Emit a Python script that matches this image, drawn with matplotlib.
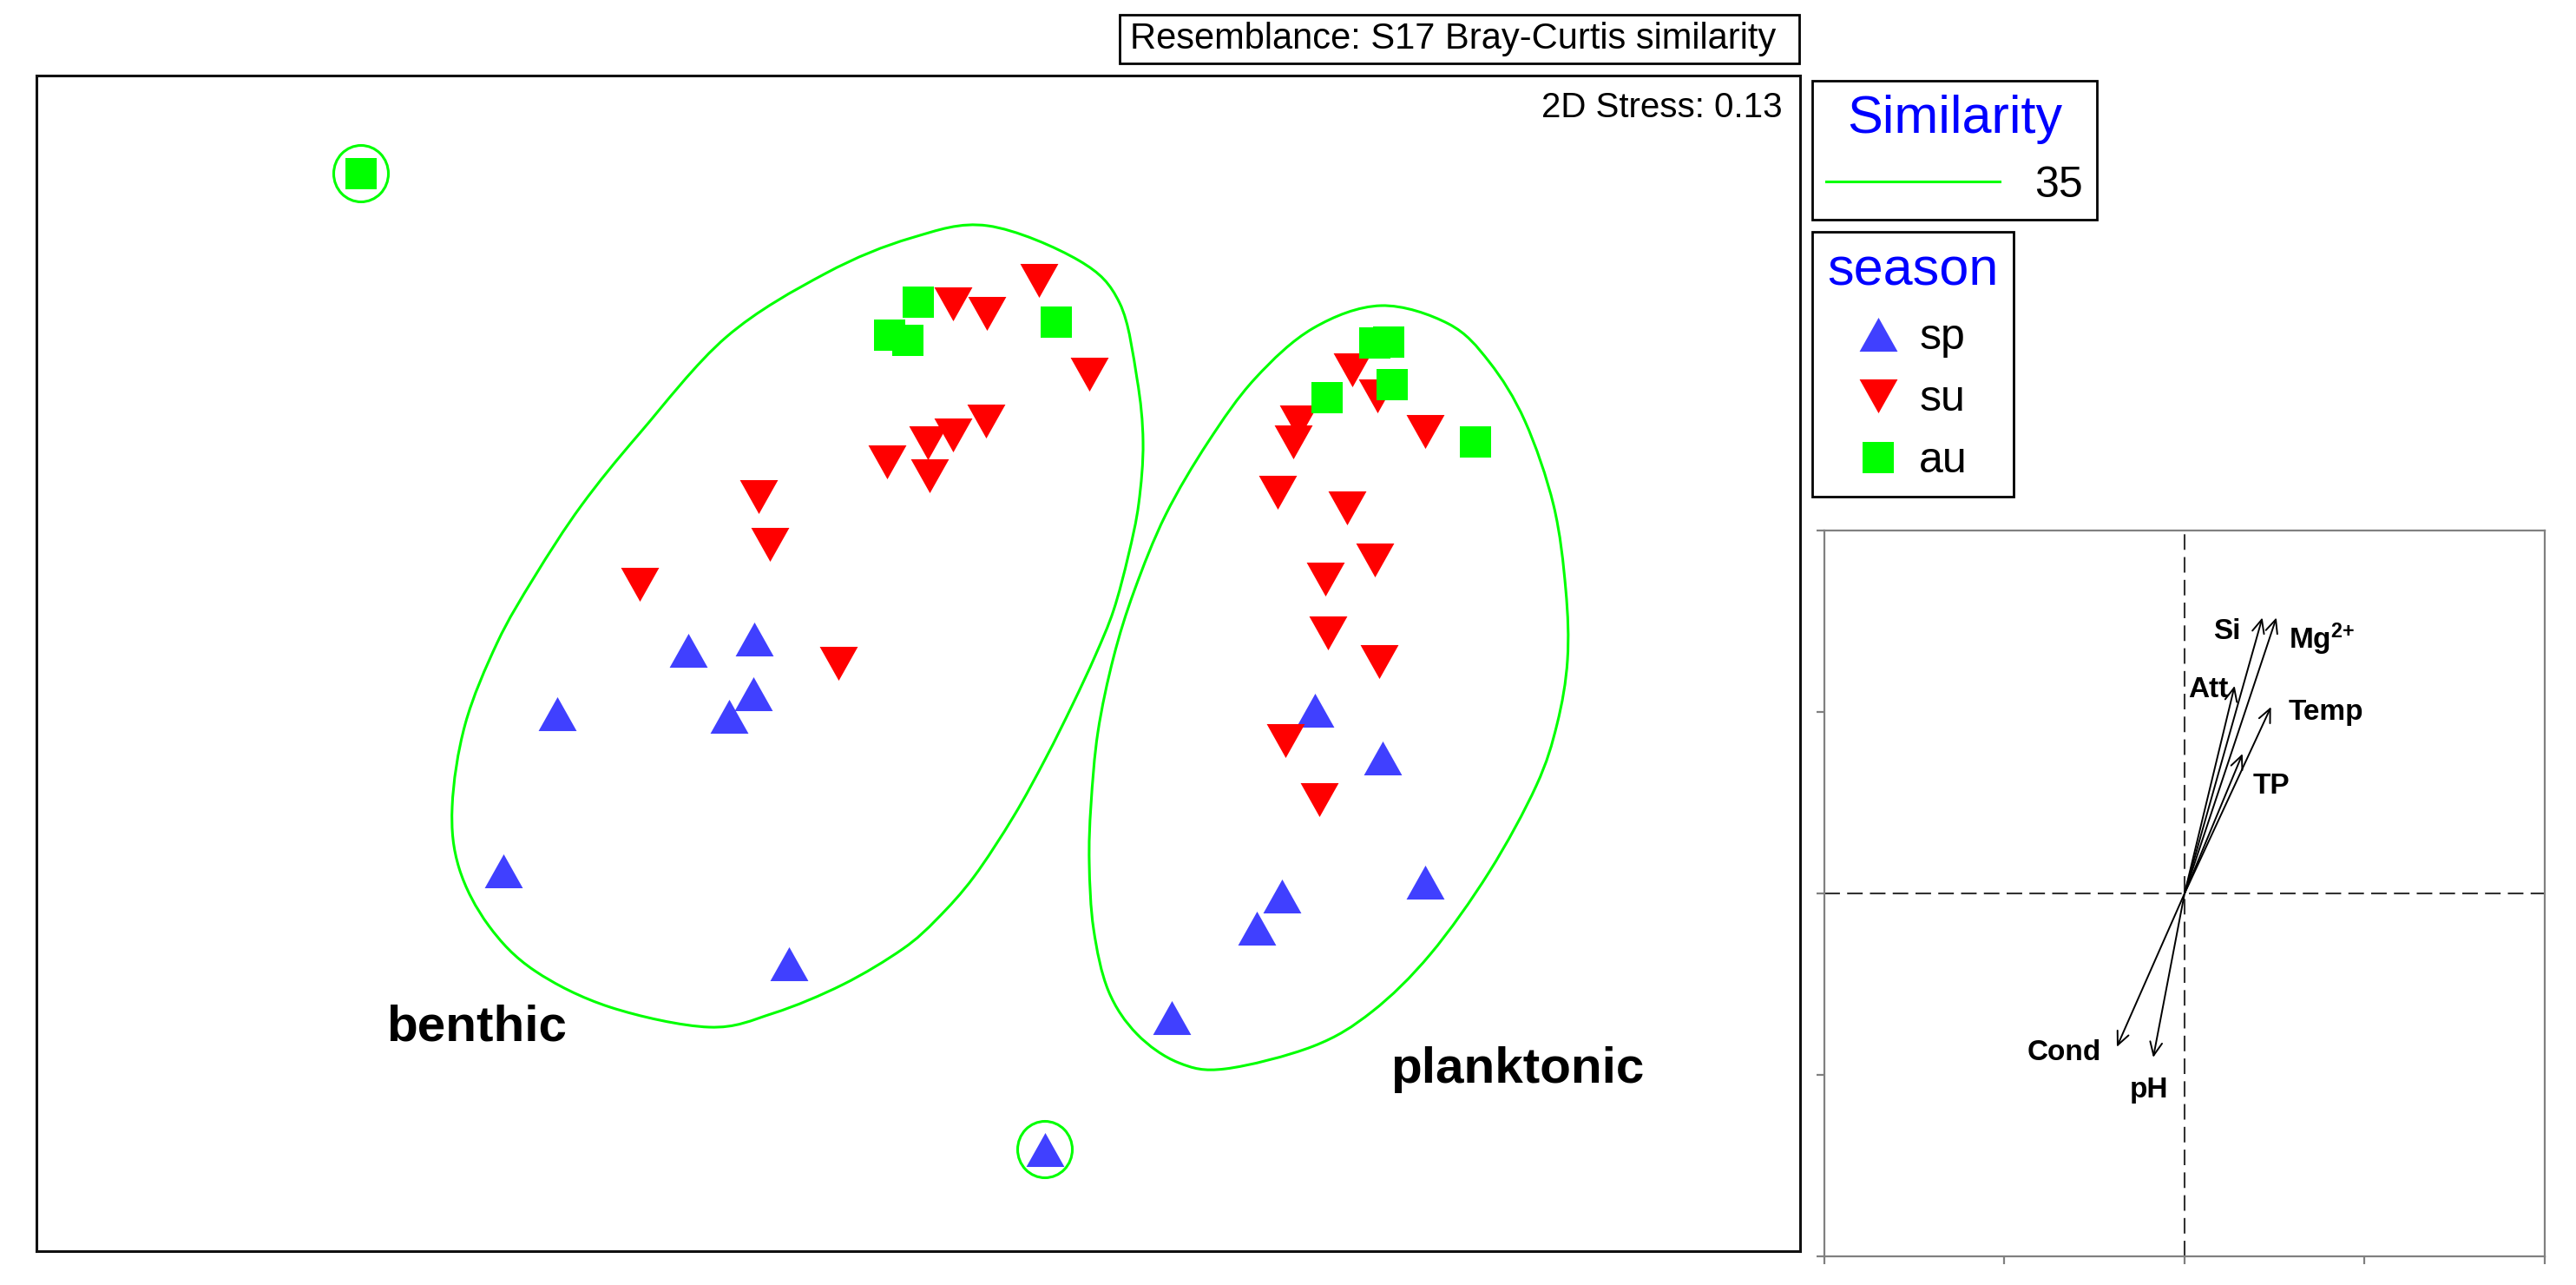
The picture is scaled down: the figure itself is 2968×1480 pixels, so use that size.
import numpy as np
import matplotlib
matplotlib.use("Agg")
import matplotlib.pyplot as plt
from matplotlib.path import Path
from matplotlib.patches import PathPatch, Ellipse, Rectangle
from matplotlib.lines import Line2D

plt.rcParams["font.family"] = ["Liberation Sans", "DejaVu Sans"]
plt.rcParams["mathtext.fontset"] = "custom"
plt.rcParams["mathtext.rm"] = "Liberation Sans"
plt.rcParams["mathtext.bf"] = "Liberation Sans:bold"

# nMDS coordinates per season
sp_x = [-0.530, -0.378, -0.832, -0.380, -0.436, -0.956, -0.298,
        0.914, 1.070, 1.168, 0.838, 0.780, 0.584, 0.292]
sp_y = [0.030, 0.056, -0.116, -0.070, -0.122, -0.478, -0.692,
        -0.108, -0.218, -0.504, -0.536, -0.610, -0.816, -1.120]

su_x = [-0.368, -0.342, -0.642, -0.184, 0.080, 0.158, 0.278, 0.394, 0.156,
        0.080, 0.022, -0.072, 0.026,
        1.000, 1.058, 1.168, 0.876, 0.864, 0.828, 0.988, 1.052, 0.938,
        0.944, 1.062, 0.846, 0.924]
su_y = [0.384, 0.274, 0.182, 0.000, 0.828, 0.806, 0.882, 0.666, 0.558,
        0.526, 0.508, 0.464, 0.432,
        0.676, 0.616, 0.534, 0.556, 0.510, 0.394, 0.358, 0.238, 0.194,
        0.070, 0.004, -0.178, -0.314]

au_x = [-1.284, 0.000, -0.066, -0.024, 0.318, 1.052, 1.084, 1.092, 0.942, 1.284]
au_y = [1.128, 0.832, 0.756, 0.744, 0.786, 0.738, 0.740, 0.642, 0.612, 0.510]

# 35 % similarity outlines
benthic_x = [0.160, 0.370, 0.464, 0.504, 0.518, 0.508, 0.484, 0.450, 0.408,
             0.356, 0.294, 0.220, 0.128, 0.044, -0.036, -0.174, -0.334,
             -0.482, -0.710, -0.884, -0.990, -1.058, -1.074, -1.044, -0.970,
             -0.884, -0.776, -0.642, -0.442, -0.214, -0.016]
benthic_y = [1.008, 0.928, 0.830, 0.656, 0.510, 0.368, 0.248, 0.122, 0.018,
             -0.094, -0.218, -0.352, -0.492, -0.588, -0.658, -0.740, -0.806,
             -0.838, -0.792, -0.708, -0.604, -0.472, -0.330, -0.140, 0.048,
             0.200, 0.364, 0.530, 0.752, 0.898, 0.980]
plank_x = [1.066, 1.222, 1.316, 1.398, 1.464, 1.492, 1.496, 1.472, 1.424,
           1.316, 1.180, 1.046, 0.910, 0.708, 0.600, 0.504, 0.438, 0.404,
           0.394, 0.398, 0.414, 0.450, 0.498, 0.570, 0.668, 0.776, 0.910]
plank_y = [0.824, 0.782, 0.694, 0.558, 0.364, 0.170, 0.008, -0.140, -0.282,
           -0.480, -0.670, -0.802, -0.882, -0.934, -0.920, -0.854, -0.754,
           -0.612, -0.460, -0.326, -0.158, 0.014, 0.168, 0.342, 0.510,
           0.656, 0.772]
# single-sample clusters: (season, index)
singletons = [("au", 0), ("sp", 13)]

# environmental vectors
var_names = ["Si", r"$\mathbf{Mg^{2{+}}}$", "Att", "Temp", "TP", "Cond", "pH"]
vec_x = [0.216, 0.255, 0.139, 0.240, 0.161, -0.188, -0.087]
vec_y = [0.760, 0.760, 0.572, 0.514, 0.385, -0.423, -0.452]

BLUE = "#4040ff"
RED = "#ff0000"
GREEN = "#00ff00"
tri_up = [(-1, -0.89), (1, -0.89), (0, 0.89)]
tri_dn = [(-1, 0.89), (1, 0.89), (0, -0.89)]


def smooth_closed(xs, ys):
    pts = np.column_stack([xs, ys])
    n = len(pts)
    verts = [pts[0]]
    codes = [Path.MOVETO]
    for i in range(n):
        p0, p1, p2, p3 = pts[i - 1], pts[i], pts[(i + 1) % n], pts[(i + 2) % n]
        verts += [p1 + (p2 - p0) / 6, p2 - (p3 - p1) / 6, p2]
        codes += [Path.CURVE4] * 3
    return Path(verts, codes)


fig = plt.figure(figsize=(14.84, 7.40), dpi=200)

# ---- nMDS panel
ax = fig.add_axes([0.01415, 0.02635, 0.68464, 0.91486])
ax.set_xlim(-2.032, 2.032)
ax.set_ylim(-1.354, 1.354)
ax.set_xticks([])
ax.set_yticks([])
for s in ax.spines.values():
    s.set_color("#111111")
    s.set_linewidth(1.1)

for xs, ys in [(benthic_x, benthic_y), (plank_x, plank_y)]:
    ax.add_patch(PathPatch(smooth_closed(xs, ys), fill=False, ec=GREEN, lw=1.1))

season_xy = {"sp": (sp_x, sp_y), "su": (su_x, su_y), "au": (au_x, au_y)}
for key, i in singletons:
    xs, ys = season_xy[key]
    ax.add_patch(Ellipse((xs[i], ys[i]), 0.126, 0.13, fill=False, ec=GREEN, lw=1.1))

ax.plot(sp_x, sp_y, ls="none", marker=tri_up, ms=15.8, mfc=BLUE, mew=0)
ax.plot(su_x, su_y, ls="none", marker=tri_dn, ms=15.8, mfc=RED, mew=0)
ax.plot(au_x, au_y, ls="none", marker="s", ms=13.2, mfc=GREEN, mew=0)

ax.text(0.990, 0.9727, "2D Stress: 0.13", transform=ax.transAxes,
        ha="right", va="center", fontsize=14.5)
ax.text(-1.226, -0.868, "benthic", fontsize=21, fontweight="bold", va="baseline")
ax.text(1.088, -0.966, "planktonic", fontsize=21, fontweight="bold", va="baseline")

# ---- header box
fig.patches.append(Rectangle((0.43464, 0.95068), 0.26381, 0.03784,
                             transform=fig.transFigure, fill=False,
                             ec="black", lw=1.0))
fig.text(0.4387, 0.9696, "Resemblance: S17 Bray-Curtis similarity",
         ha="left", va="center", fontsize=15)

# ---- legends
leg1 = fig.legend([Line2D([], [], color=GREEN, lw=1.1)], ["35"],
                  title="Similarity", loc="upper left",
                  bbox_to_anchor=(0.7035, 0.9372), borderaxespad=0,
                  fontsize=18, title_fontsize=22, handlelength=4.0,
                  handletextpad=0.8, borderpad=0.32, fancybox=False,
                  framealpha=1, edgecolor="black")
leg1.get_title().set_color("#0000ff")
leg1.get_frame().set_linewidth(1.0)

season_handles = [
    Line2D([], [], ls="none", marker=tri_up, ms=15.8, mfc=BLUE, mew=0),
    Line2D([], [], ls="none", marker=tri_dn, ms=15.8, mfc=RED, mew=0),
    Line2D([], [], ls="none", marker="s", ms=13.2, mfc=GREEN, mew=0),
]
leg2 = fig.legend(season_handles, ["sp", "su", "au"], title="season",
                  loc="upper left", bbox_to_anchor=(0.7035, 0.8196),
                  borderaxespad=0, fontsize=18, title_fontsize=22,
                  handlelength=0.9, handletextpad=0.5, labelspacing=0.5,
                  borderpad=0.35, fancybox=False, framealpha=1,
                  edgecolor="black")
leg2.get_title().set_color("#0000ff")
leg2.get_frame().set_linewidth(1.0)

# ---- vector panel
ax2 = fig.add_axes([0.70822, 0.0223, 0.27965, 0.56486])
ax2.set_xlim(-1, 1)
ax2.set_ylim(-1, 1)
ticks = [-1, -0.5, 0, 0.5, 1]
ax2.set_xticks(ticks)
ax2.set_yticks(ticks)
ax2.tick_params(direction="out", length=3.2, width=0.8, colors="#808080",
                labelbottom=False, labelleft=False)
for s in ax2.spines.values():
    s.set_color("#808080")
    s.set_linewidth(0.8)
ax2.axhline(0, color="#333333", lw=0.75, ls=(0, (8.6, 4)))
ax2.axvline(0, color="#333333", lw=0.75, ls=(0, (8.6, 4)))

label_pos = {
    "Si": (0.118, 0.721, "center"),
    r"$\mathbf{Mg^{2{+}}}$": (0.288, 0.700, "left"),
    "Att": (0.065, 0.560, "center"),
    "Temp": (0.288, 0.498, "left"),
    "TP": (0.240, 0.296, "center"),
    "Cond": (-0.334, -0.438, "center"),
    "pH": (-0.099, -0.541, "center"),
}
for name, vx, vy in zip(var_names, vec_x, vec_y):
    ax2.annotate("", xy=(vx, vy), xytext=(0, 0),
                 arrowprops=dict(arrowstyle="->,head_length=0.55,head_width=0.25",
                                 lw=0.7, color="black", shrinkA=0, shrinkB=0))
    lx, ly, ha = label_pos[name]
    ax2.text(lx, ly, name, ha=ha, va="center", fontsize=12, fontweight="bold")

fig.savefig("out.png", dpi=200)
